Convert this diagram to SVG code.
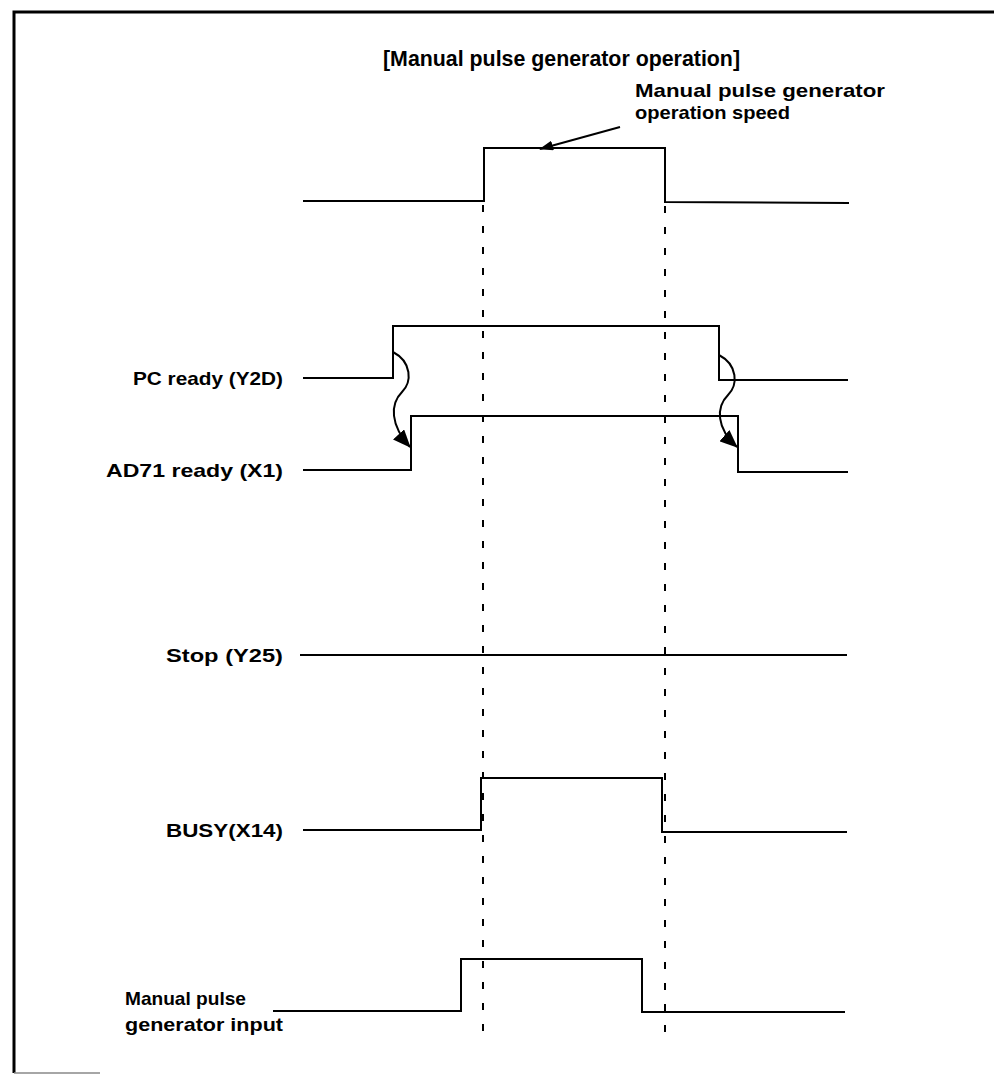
<svg xmlns="http://www.w3.org/2000/svg" width="994" height="1075" viewBox="0 0 994 1075">
<style>
.sig{fill:none;stroke:#000;stroke-width:2}
.dash{fill:none;stroke:#000;stroke-width:2;stroke-dasharray:7 14}
.lbl{font-family:"Liberation Sans",Arial,sans-serif;font-size:19px;font-weight:bold;fill:#000}
.curve{fill:none;stroke:#000;stroke-width:2}
</style>
<defs>
<marker id="ah" markerWidth="14" markerHeight="10" refX="13" refY="5" orient="auto" markerUnits="userSpaceOnUse" viewBox="0 0 14 10">
<path d="M0,0 L14,5 L0,10 z" fill="#000"/>
</marker>
<marker id="ahs" markerWidth="18" markerHeight="15" refX="17" refY="7.5" orient="auto" markerUnits="userSpaceOnUse" viewBox="0 0 18 15">
<path d="M0,0 L18,7.5 L0,15 z" fill="#000"/>
</marker>
</defs>
<g id="frame">
<path d="M14,1073 L14,12 L994,12" fill="none" stroke="#000" stroke-width="3"/>
<line x1="14" y1="1073" x2="100" y2="1073" stroke="#888" stroke-width="1.5"/>
</g>
<text id="title" x="383" y="66" font-family="'Liberation Sans',Arial,sans-serif" font-size="22" font-weight="bold" textLength="357" lengthAdjust="spacingAndGlyphs">[Manual pulse generator operation]</text>
<g id="speed">
<path class="sig" d="M303,201 L484,201 L484,148 L665,148 L665,202 L849,203"/>
<text class="lbl" x="635" y="97" textLength="250" lengthAdjust="spacingAndGlyphs">Manual pulse generator</text>
<text class="lbl" x="635" y="119" textLength="155" lengthAdjust="spacingAndGlyphs">operation speed</text>
</g>
<g id="pcready">
<text class="lbl" x="133" y="385" textLength="150" lengthAdjust="spacingAndGlyphs">PC ready (Y2D)</text>
<path class="sig" d="M303,378 L393,378 L393,326 L719,326 L719,380 L848,380"/>
</g>
<g id="ad71ready">
<text class="lbl" x="106" y="477" textLength="177" lengthAdjust="spacingAndGlyphs">AD71 ready (X1)</text>
<path class="sig" d="M303,470 L411,470 L411,416 L738,416 L738,472 L848,472"/>
</g>
<g id="stop">
<text class="lbl" x="166" y="662" textLength="117" lengthAdjust="spacingAndGlyphs">Stop (Y25)</text>
<line class="sig" x1="300" y1="655" x2="847" y2="655"/>
</g>
<g id="busy">
<text class="lbl" x="166" y="837" textLength="117" lengthAdjust="spacingAndGlyphs">BUSY(X14)</text>
<path class="sig" d="M303,830 L481,830 L481,778 L662,778 L662,832 L847,832"/>
</g>
<g id="mpginput">
<text class="lbl" x="125" y="1005" textLength="121" lengthAdjust="spacingAndGlyphs">Manual pulse</text>
<text class="lbl" x="125" y="1031" textLength="158" lengthAdjust="spacingAndGlyphs">generator input</text>
<path class="sig" d="M273,1011 L461,1011 L461,959 L642,959 L642,1012 L845,1012"/>
</g>
<g id="connectors">
<line class="dash" x1="483" y1="205" x2="483" y2="1036"/>
<line class="dash" x1="665" y1="206" x2="665" y2="1036"/>
<line x1="620" y1="127" x2="540" y2="149" stroke="#000" stroke-width="2" marker-end="url(#ah)"/>
<path class="curve" d="M393,352 C412,362 412,382 402,392 C390,404 390,425 410,447" marker-end="url(#ahs)"/>
<path class="curve" d="M719,355 C738,365 738,385 728,395 C716,407 716,428 737,447" marker-end="url(#ahs)"/>
</g>
</svg>
